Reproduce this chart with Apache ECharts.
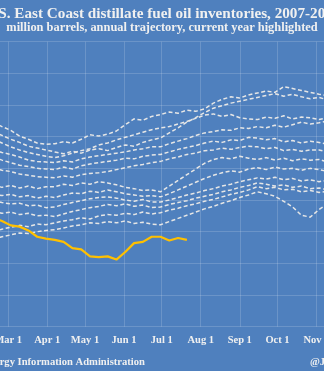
<!DOCTYPE html>
<html>
<head>
<meta charset="utf-8">
<script src="https://cdn.jsdelivr.net/npm/echarts@6/dist/echarts.min.js"></script>
<style>
html,body{margin:0;padding:0;background:#4F80BE;overflow:hidden;width:324px;height:371px;position:relative;}
#c{position:absolute;left:-138px;top:0;width:600px;height:371px;}
</style>
</head>
<body>
<div id="c"></div>
<script>
// ---- tick labels / calendar ----
const MONTHS = ['Jan','Feb','Mar','Apr','May','Jun','Jul','Aug','Sep','Oct','Nov','Dec'];
const DAYS_IN_MONTH = [31,28,31,30,31,30,31,31,30,31,30,31];

// weekly observation dates (day-of-year index, 0 = Jan 1)
const WEEK_START_DAY = 47;
const WEEK_STEP = 7;

// ---- prior years (million barrels, weekly) ----
const y2007 = [52.3,51.6,51.0,50.1,49.6,49.0,48.8,48.9,49.2,49.0,49.6,50.3,50.1,50.4,50.9,51.9,52.8,52.6,53.2,53.5,53.9,53.7,54.2,54.0,54.4,55.3,55.9,56.3,56.1,56.6,56.9,57.2,57.0,57.9,57.6,57.3,57.0,56.7,56.5,56.3];
const y2008 = [50.8,50.2,49.6,49.1,48.5,48.2,47.9,47.6,47.3,47.7,47.4,47.9,48.1,47.8,48.3,48.7,48.5,49.1,49.5,49.8,50.6,51.4,52.3,53.0,53.8,54.5,54.9,55.3,55.6,55.9,56.2,56.5,56.8,56.4,56.7,56.3,56.0,56.2,55.8,55.5];
const y2009 = [49.6,49.0,48.4,47.9,47.5,47.2,46.9,46.7,47.0,47.4,47.8,48.1,48.7,49.0,49.5,49.9,50.3,50.7,51.1,51.4,51.6,52.0,52.4,52.9,53.4,53.6,53.2,53.5,53.0,52.8,52.7,53.1,52.9,53.3,52.8,53.1,53.0,52.7,53.0,52.8];
const y2010 = [47.9,47.5,47.2,46.8,46.3,46.1,46.0,45.9,46.2,46.0,46.5,46.8,47.0,47.2,47.4,47.6,47.9,48.1,48.4,48.4,48.9,49.3,49.7,50.2,50.6,50.8,51.1,51.0,51.4,51.3,51.6,51.4,51.8,51.5,51.9,52.3,52.0,52.2,52.5,52.3];
const y2011 = [46.8,46.3,45.9,45.5,45.3,45.0,44.9,44.8,45.2,44.9,45.4,45.7,45.9,46.1,46.3,46.6,46.5,46.9,47.1,47.2,47.6,48.0,48.3,48.6,49.0,49.3,49.1,49.5,49.4,49.9,49.8,49.5,49.7,49.2,49.4,49.0,49.3,49.1,48.8,49.0];
const y2012 = [45.1,44.7,44.5,44.1,43.9,43.7,43.6,43.5,43.8,43.6,44.0,44.2,44.3,44.5,44.8,45.1,45.4,45.6,45.9,46.1,46.5,46.8,47.2,47.4,47.8,47.9,48.2,48.0,48.3,48.5,48.4,48.1,48.3,47.8,48.0,47.7,47.9,47.9,47.6,47.8];
const y2013 = [42.4,42.0,42.3,41.9,42.2,41.8,42.1,42.1,42.5,42.3,42.7,42.5,42.9,42.7,42.4,42.0,41.8,41.5,41.6,41.3,42.2,43.1,44.0,44.9,45.8,46.4,46.7,46.5,46.9,46.6,46.4,46.7,46.3,46.6,46.2,46.5,46.3,46.4,46.0,46.2];
const y2014 = [40.9,40.7,40.9,40.5,40.7,40.3,40.6,40.4,40.8,41.1,41.0,41.4,41.2,41.6,41.3,41.0,40.8,40.6,40.7,40.5,41.0,41.6,42.2,42.8,43.4,43.9,44.3,44.6,44.4,44.9,45.1,44.8,45.2,44.9,45.0,44.7,45.0,44.8,44.5,44.7];
const y2015 = [39.9,39.6,39.4,39.5,39.1,39.2,38.8,38.9,39.3,39.6,39.9,40.2,40.4,40.5,40.3,40.0,39.8,40.1,39.7,39.7,40.0,40.4,40.8,41.1,41.5,41.8,42.2,42.5,42.9,43.2,43.5,43.3,43.6,43.2,43.4,43.0,43.2,42.9,43.1,42.8];
const y2016 = [38.2,37.9,38.1,37.7,37.9,37.5,37.6,37.4,37.8,38.2,38.5,38.8,39.0,39.3,39.1,39.4,39.0,39.2,38.8,38.9,39.3,39.6,39.9,40.3,40.6,40.9,41.3,41.6,42.0,42.3,42.7,42.5,42.2,42.4,42.0,42.2,41.8,41.9,41.6,41.8];
const y2017 = [35.0,35.4,35.7,36.0,35.8,36.2,36.1,36.4,36.7,36.9,37.2,37.0,37.5,37.7,37.6,37.9,37.7,38.1,37.8,38.0,38.4,38.7,39.1,39.4,39.8,40.1,40.5,40.9,41.2,41.6,42.1,41.8,42.0,41.6,41.7,41.3,41.5,41.2,41.4,41.1];
const y2018 = [33.8,34.2,34.5,34.8,34.7,35.0,35.2,35.3,35.6,35.9,36.1,36.4,36.3,36.6,36.4,36.7,36.3,36.5,36.2,36.1,36.6,37.1,37.6,38.1,38.6,39.0,39.5,39.9,40.4,40.8,41.3,41.0,40.6,39.8,38.9,37.6,37.3,38.5,39.4,39.2];

// ---- current year ----
const y2019 = [37.2,36.7,36.0,35.8,35.2,34.2,33.9,33.7,33.4,32.4,32.2,31.1,31.0,31.1,30.6,31.8,33.2,33.4,34.2,34.2,33.6,34.0,33.7];

const PRIOR = [y2007,y2008,y2009,y2010,y2011,y2012,y2013,y2014,y2015,y2016,y2017,y2018];

// ---- build calendar categories ----
const categories = [];
const monthStart = new Set();
DAYS_IN_MONTH.forEach((n, m) => {
  for (let d = 1; d <= n; d++) {
    if (d === 1) monthStart.add(categories.length);
    categories.push(MONTHS[m] + ' ' + d);
  }
});
const toPairs = arr => arr.map((v, i) => [WEEK_START_DAY + i * WEEK_STEP, v]);

const TXT = '#F0F0F0';
const SERIF = '"Liberation Serif", "DejaVu Serif", serif';
const OFF = 138; // canvas offset of the visible window

const series = PRIOR.map(arr => ({
  type: 'line',
  data: toPairs(arr),
  symbol: 'none',
  silent: true,
  lineStyle: { color: '#E6E6E6', width: 1.5, type: [4, 2.5] },
  z: 2
}));
series.push({
  type: 'line',
  data: toPairs(y2019),
  symbol: 'none',
  silent: true,
  lineStyle: { color: '#FFC000', width: 2.2 },
  z: 3
});

const chart = echarts.init(document.getElementById('c'), null, { renderer: 'canvas' });
chart.setOption({
  backgroundColor: '#4F80BE',
  animation: false,
  title: {
    text: 'U.S. East Coast distillate fuel oil inventories, 2007-2019',
    subtext: 'million barrels, annual trajectory, current year highlighted',
    left: 'center',
    top: 2,
    itemGap: 0,
    textStyle: { color: TXT, fontFamily: SERIF, fontWeight: 'bold', fontSize: 15.2 },
    subtextStyle: { color: TXT, fontFamily: SERIF, fontWeight: 'bold', fontSize: 12.4 }
  },
  grid: { left: OFF - 66, width: 458, top: 41.7, height: 285 },
  xAxis: {
    type: 'category',
    data: categories,
    boundaryGap: false,
    axisLine: { show: false },
    axisTick: { show: false },
    axisLabel: {
      interval: (i) => monthStart.has(i),
      color: TXT, fontFamily: SERIF, fontWeight: 'bold', fontSize: 10.5, margin: 8
    },
    splitLine: {
      show: true,
      interval: (i) => monthStart.has(i),
      lineStyle: { color: 'rgba(255,255,255,0.16)', width: 1 }
    }
  },
  yAxis: {
    type: 'value',
    min: 20, max: 65, interval: 5,
    axisLine: { show: false },
    axisTick: { show: false },
    axisLabel: { show: false },
    splitLine: { lineStyle: { color: 'rgba(255,255,255,0.16)', width: 1 } }
  },
  graphic: [
    { type: 'text', x: OFF + 145, y: 357, style: { text: 'Source: U.S. Energy Information Administration', align: 'right', fill: TXT, font: 'bold 10.6px ' + SERIF } },
    { type: 'text', x: OFF + 310, y: 357, style: { text: '@JKempEnergy', align: 'left', fill: TXT, font: 'bold 10.6px ' + SERIF } }
  ],
  series: series
});
</script>
</body>
</html>
